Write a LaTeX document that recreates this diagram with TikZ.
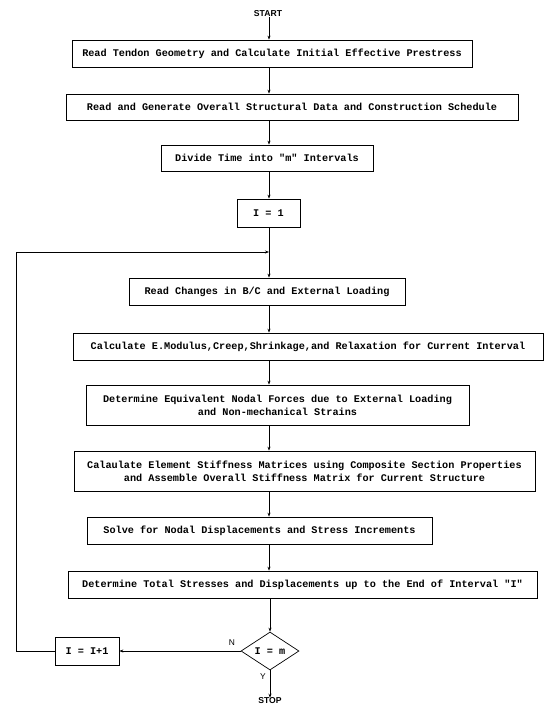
\documentclass[tikz,border=0pt]{standalone}
\usepackage{fontspec}
\setmonofont{Liberation Mono}
\newfontfamily\labfont{Liberation Sans}
\usetikzlibrary{arrows.meta,shapes.geometric}
\begin{document}
\begin{tikzpicture}[x=1pt,y=-1pt,
  box/.style={draw,line width=0.7pt,inner sep=0pt,align=center,
    font=\ttfamily\fontsize{10.2}{13}\selectfont\bfseries},
  dia/.style={draw,line width=0.7pt,diamond,inner sep=0pt,
    minimum width=58pt,minimum height=38pt,font=\ttfamily\fontsize{10.2}{13}\selectfont\bfseries},
  term/.style={inner sep=0pt,font=\labfont\bfseries\fontsize{8.6}{10}\selectfont},
  yn/.style={inner sep=0pt,font=\labfont\fontsize{8.4}{10}\selectfont},
  arr/.style={line width=0.7pt,-{Stealth[length=4pt,width=3pt]}},
  ln/.style={line width=0.7pt}]
\fill[white] (0,0) rectangle (550,708);
\useasboundingbox (0,0) rectangle (550,708);
\coordinate (ax) at (269,0);
\node[term] (start) at (268,14) {START};
\node[box,minimum width=400pt,minimum height=27pt] (b1) at (272,53.5)
  {Read Tendon Geometry and Calculate Initial Effective Prestress};
\node[box,minimum width=452pt,minimum height=26pt] (b2) at (292,107)
  {Read and Generate Overall Structural Data and Construction Schedule};
\node[box,minimum width=212pt,minimum height=26pt] (b3) at (267,158)
  {Divide Time into "m" Intervals};
\node[box,minimum width=63pt,minimum height=28pt] (b4) at (268.5,213)
  {I = 1};
\node[box,minimum width=276pt,minimum height=27pt] (b5) at (267,291.5)
  {Read Changes in B/C and External Loading};
\node[box,minimum width=470pt,minimum height=27pt] (b6) at (308,346.5)
  {Calculate E.Modulus,Creep,Shrinkage,and Relaxation for Current Interval};
\node[box,minimum width=383pt,minimum height=40pt] (b7) at (277.5,405)
  {Determine Equivalent Nodal Forces due to External Loading\\and Non-mechanical Strains};
\node[box,minimum width=461pt,minimum height=40pt] (b8) at (304.5,471)
  {Calaulate Element Stiffness Matrices using Composite Section Properties\\and Assemble Overall Stiffness Matrix for Current Structure};
\node[box,minimum width=345pt,minimum height=27pt] (b9) at (259.5,530.5)
  {Solve for Nodal Displacements and Stress Increments};
\node[box,minimum width=469pt,minimum height=27pt] (b10) at (302.5,584.5)
  {Determine Total Stresses and Displacements up to the End of Interval "I"};
\node[dia] (d) at (270,651) {I = m};
\node[box,minimum width=64pt,minimum height=28pt] (inc) at (87,651) {I = I+1};
\node[term] (stop) at (270,701) {STOP};
\node[yn] (nlab) at (232,643) {N};
\node[yn] (ylab) at (263,677) {Y};
\coordinate (lx) at (16,0);
\coordinate (ly) at (0,252);

\draw[arr] (start.south -| ax) -- (b1.north -| ax);
\draw[arr] (b1.south -| ax) -- (b2.north -| ax);
\draw[arr] (b2.south -| ax) -- (b3.north -| ax);
\draw[arr] (b3.south -| ax) -- (b4.north -| ax);
\draw[arr] (b4.south -| ax) -- (b5.north -| ax);
\draw[arr] (b5.south -| ax) -- (b6.north -| ax);
\draw[arr] (b6.south -| ax) -- (b7.north -| ax);
\draw[arr] (b7.south -| ax) -- (b8.north -| ax);
\draw[arr] (b8.south -| ax) -- (b9.north -| ax);
\draw[arr] (b9.south -| ax) -- (b10.north -| ax);
\draw[arr] (b10.south -| d.north) -- (d.north);
\draw[arr] (d.west) -- (inc.east);
\draw[arr] (d.south) -- (stop.north);
\draw[arr] (inc.west) -- (inc.west -| lx) -- (lx |- ly) -- (ax |- ly);
\end{tikzpicture}
\end{document}
